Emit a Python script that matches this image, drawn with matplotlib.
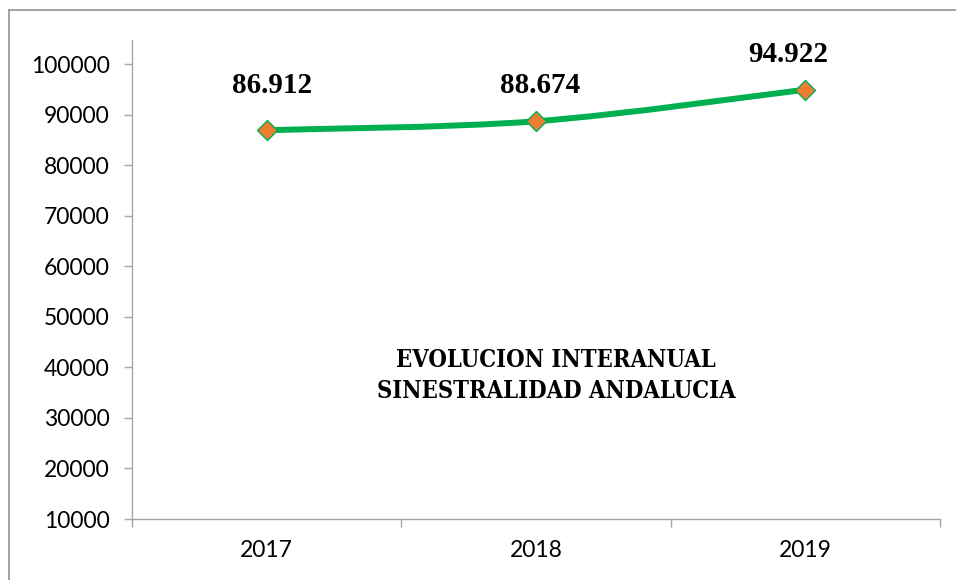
import matplotlib.pyplot as plt
from matplotlib.path import Path
from matplotlib.patches import PathPatch
from matplotlib.lines import Line2D

years = ["2017", "2018", "2019"]
siniestros = [86912, 88674, 94922]
etiquetas = ["86.912", "88.674", "94.922"]
y_ticks = [10000, 20000, 30000, 40000, 50000, 60000, 70000, 80000, 90000, 100000]

VERDE = "#00B050"
NARANJA = "#ED7D31"
GRIS = "#A6A6A6"

fig = plt.figure(figsize=(9.56, 5.8), dpi=100)
ax = fig.add_axes([132 / 956, 1 - 519 / 580, (940 - 132) / 956, (519 - 40) / 580])

x = list(range(len(years)))

# smoothed line (Catmull-Rom segments as cubic Beziers, like Excel's smoothing)
pts = list(zip(x, siniestros))
verts = [pts[0]]
codes = [Path.MOVETO]
for i in range(len(pts) - 1):
    p0 = pts[i - 1] if i > 0 else pts[i]
    p1 = pts[i]
    p2 = pts[i + 1]
    p3 = pts[i + 2] if i + 2 < len(pts) else pts[i + 1]
    c1 = (p1[0] + (p2[0] - p0[0]) / 6, p1[1] + (p2[1] - p0[1]) / 6)
    c2 = (p2[0] - (p3[0] - p1[0]) / 6, p2[1] - (p3[1] - p1[1]) / 6)
    verts += [c1, c2, p2]
    codes += [Path.CURVE4] * 3
ax.add_patch(PathPatch(Path(verts, codes), facecolor="none", edgecolor=VERDE,
                       lw=4.3, capstyle="round", joinstyle="round", zorder=3))
ax.plot(x, siniestros, linestyle="none", marker="D", markersize=10,
        markerfacecolor=NARANJA, markeredgecolor=VERDE, markeredgewidth=1, zorder=4)

# value labels
offsets = [(4, 32), (3, 26), (-12, 25)]
for xi, yi, txt, off in zip(x, siniestros, etiquetas, offsets):
    ax.annotate(txt, (xi, yi), xytext=off, textcoords="offset points",
                ha="center", va="center", fontsize=21, fontweight="bold",
                family="Liberation Serif", color="black")

ax.text(0.525, 0.3, "EVOLUCION INTERANUAL\nSINESTRALIDAD ANDALUCIA",
        transform=ax.transAxes, ha="center", va="center", fontsize=17,
        fontweight="bold", family="DejaVu Serif", fontstretch="condensed",
        linespacing=1.35)

ax.set_xlim(-0.5, 2.5)
ax.set_ylim(10000, 104750)
ax.set_yticks(y_ticks)
ax.set_yticklabels([str(v) for v in y_ticks], family="Lato", fontsize=16.5)
ax.set_xticks(x)
ax.set_xticklabels(years, family="Lato", fontsize=16.5)
ax.set_xticks([-0.5, 0.5, 1.5, 2.5], minor=True)
ax.tick_params(axis="x", which="major", length=0, pad=15)
ax.tick_params(axis="x", which="minor", length=6, width=1, color=GRIS)
ax.tick_params(axis="y", length=6, width=1, color=GRIS, pad=10)

for s in ["top", "right"]:
    ax.spines[s].set_visible(False)
for s in ["left", "bottom"]:
    ax.spines[s].set_color(GRIS)
    ax.spines[s].set_linewidth(1)

# chart frame (only the top and left edges fall inside the image)
fig.add_artist(Line2D([9 / 956, 9 / 956], [0, 1 - 10 / 580], color="#9A9A9A", lw=1.3))
fig.add_artist(Line2D([9 / 956, 1], [1 - 10 / 580, 1 - 10 / 580], color="#9A9A9A", lw=1.3))

fig.savefig("out.png", dpi=100, facecolor="white")
